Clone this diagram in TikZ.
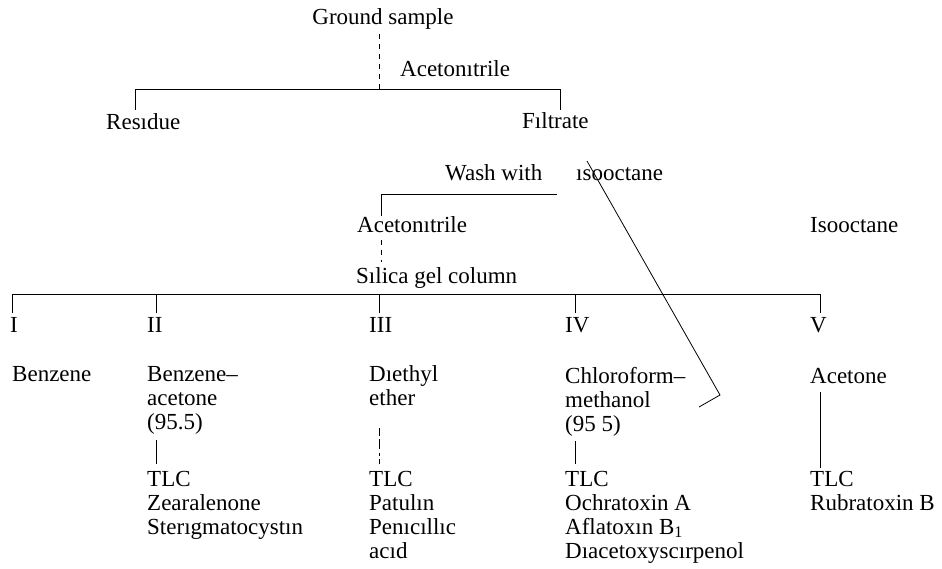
\documentclass[tikz,border=0pt]{standalone}
\usepackage{fontspec}
\setmainfont{Liberation Serif}
\newcommand\dfs{\fontsize{23}{24}\selectfont}
\begin{document}
\begin{tikzpicture}[x=1pt,y=-1pt,
  tx/.style={anchor=base west, inner sep=0pt, font=\dfs},
  ln/.style={line width=0.8pt, black},
  dl/.style={line width=0.8pt, black, dash pattern=on 5pt off 5pt}]
\useasboundingbox (0,0) rectangle (942,568);
% top
\node[tx, anchor=base] (gs) at (383,24) {Ground sample};
\coordinate (gsb) at (379,34);
\coordinate (hj) at (379,89);
\draw[dl] (gsb) -- (hj);
\node[tx] (ac1) at (400,76) {Acetonıtrile};
\coordinate (hl) at (135,89);
\coordinate (hr) at (560,89);
\draw[ln] (hl) -- (hr);
\node[tx] (res) at (106,129) {Resıdue};
\node[tx] (fil) at (522,128) {Fıltrate};
\coordinate (resT) at (135,110);
\coordinate (filT) at (560,110);
\draw[ln] (hl) -- (resT);
\draw[ln] (hr) -- (filT);
% wash
\node[tx] (wash) at (445,180) {Wash with};
\node[tx] (iso1) at (576,180) {ısooctane};
\coordinate (wr) at (557,194);
\coordinate (wl) at (381,194);
\coordinate (wd) at (381,216);
\draw[ln] (wr) -- (wl) -- (wd);
\node[tx] (ac2) at (357,232) {Acetonıtrile};
\coordinate (acb) at (381,240);
\coordinate (sit) at (381,262);
\draw[dl] (acb) -- (sit);
\node[tx] (sil) at (356,283) {Sılica gel column};
\node[tx] (iso2) at (810,232) {Isooctane};
% diagonal
\coordinate (d0) at (587,161);
\coordinate (d1) at (720,395);
\coordinate (d2) at (699,407);
\draw[line width=0.8pt] (d0) -- (d1) -- (d2);
% main bar
\coordinate (m1) at (12,294);
\coordinate (m2) at (156,294);
\coordinate (m3) at (379,294);
\coordinate (m4) at (575,294);
\coordinate (m5) at (820,294);
\draw[ln] (m1) -- (m5);
\foreach \i/\x in {1/12,2/156,3/379,4/575,5/820}{
  \coordinate (t\i) at (\x,313);
  \draw[ln] (m\i) -- (t\i);
}
\node[tx] (rI) at (10,332) {I};
\node[tx] (rII) at (147,332) {II};
\node[tx] (rIII) at (369,332) {III};
\node[tx] (rIV) at (565,332) {IV};
\node[tx] (rV) at (810,332) {V};
% column I
\node[tx] (c1a) at (12,381) {Benzene};
% column II
\node[tx] (c2a) at (147,381) {Benzene–};
\node[tx] (c2b) at (147,405) {acetone};
\node[tx] (c2c) at (147,429) {(95.5)};
\coordinate (c2l1) at (156,440);
\coordinate (c2l2) at (156,464);
\draw[ln] (c2l1) -- (c2l2);
\node[tx] (c2d) at (147,486) {TLC};
\node[tx] (c2e) at (147,510) {Zearalenone};
\node[tx] (c2f) at (147,534) {Sterıgmatocystın};
% column III
\node[tx] (c3a) at (369,381) {Dıethyl};
\node[tx] (c3b) at (369,405) {ether};
\coordinate (c3l1) at (379,428);
\coordinate (c3l2) at (379,464);
\draw[dl, dash pattern=on 8pt off 3pt on 10pt off 4pt on 3pt off 3pt] (c3l1) -- (c3l2);
\node[tx] (c3d) at (369,486) {TLC};
\node[tx] (c3e) at (369,510) {Patulın};
\node[tx] (c3f) at (369,534) {Penıcıllıc};
\node[tx] (c3g) at (369,558) {acıd};
% column IV
\node[tx] (c4a) at (565,383) {Chloroform–};
\node[tx] (c4b) at (565,407) {methanol};
\node[tx] (c4c) at (565,431) {(95 5)};
\coordinate (c4l1) at (575,441);
\coordinate (c4l2) at (575,464);
\draw[ln] (c4l1) -- (c4l2);
\node[tx] (c4d) at (565,486) {TLC};
\node[tx] (c4e) at (565,510) {Ochratoxin A};
\node[tx] (c4f) at (565,534) {Aflatoxın B\textsubscript{1}};
\node[tx] (c4g) at (565,558) {Dıacetoxyscırpenol};
% column V
\node[tx] (c5a) at (810,383) {Acetone};
\coordinate (c5l1) at (820,392);
\coordinate (c5l2) at (820,468);
\draw[ln] (c5l1) -- (c5l2);
\node[tx] (c5d) at (810,486) {TLC};
\node[tx] (c5e) at (810,510) {Rubratoxin B};
\end{tikzpicture}
\end{document}
